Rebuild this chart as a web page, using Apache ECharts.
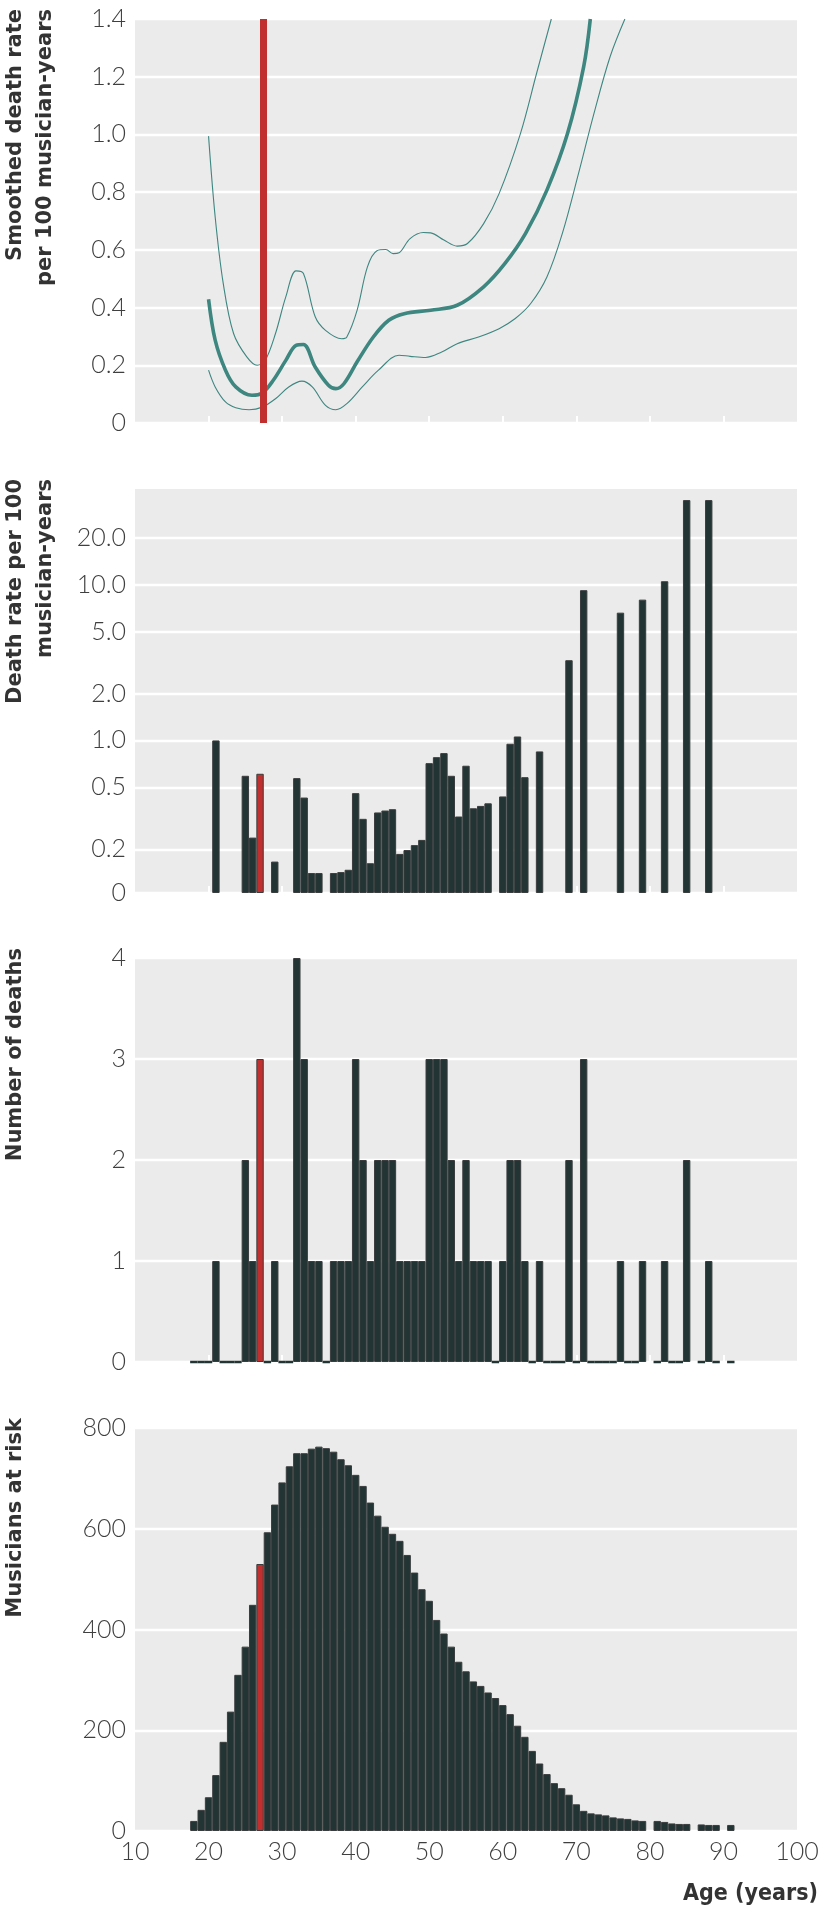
<!DOCTYPE html>
<html><head><meta charset="utf-8">
<script src="https://cdn.jsdelivr.net/npm/echarts@6/dist/echarts.min.js"></script>
<style>html,body{margin:0;padding:0;background:#fff}#c{width:824px;height:1916px}</style>
</head><body><div id="c"></div><script>
// ---- data ----
const ages = [18,19,20,21,22,23,24,25,26,27,28,29,30,31,32,33,34,35,36,37,38,39,40,41,42,43,44,45,46,47,48,49,50,51,52,53,54,55,56,57,58,59,60,61,62,63,64,65,66,67,68,69,70,71,72,73,74,75,76,77,78,79,80,81,82,83,84,85,86,87,88,89,90,91];
const atRisk = [20,42,67,111,177,237,310,366,449,530,593,648,692,724,750,750,759,763,760,753,738,726,707,685,652,626,604,590,576,548,513,480,457,419,392,366,336,317,297,288,275,264,250,232,209,187,159,134,113,95,85,72,53,40,35,33,31,27,25,24,21,20,null,20,18,15,14,14,null,13,12,12,null,12];
const deaths = [0,0,0,1,0,0,0,2,1,3,0,1,0,0,4,3,1,1,0,1,1,1,3,2,1,2,2,2,1,1,1,1,3,3,3,2,1,2,1,1,1,0,1,2,2,1,0,1,0,0,0,2,0,3,0,0,0,0,1,0,0,1,null,0,1,0,0,2,null,0,1,0,null,0];
const deathRate = [0,0,0,1.0,0,0,0,0.593,0.238,0.611,0,0.167,0,0,0.573,0.43,0.141,0.141,0,0.141,0.143,0.148,0.459,0.314,0.163,0.345,0.355,0.362,0.187,0.198,0.213,0.23,0.715,0.781,0.829,0.593,0.325,0.688,0.367,0.38,0.395,0,0.437,0.952,1.06,0.581,0,0.85,0,0,0,3.27,0,9.2,0,0,0,0,6.6,0,0,8.0,null,0,10.5,0,0,34.8,null,0,34.8,0,null,0];
const highlightAge = 27;
const markerAge = 27.45;

const smoothMidAges = [20,20.9,22.3,23.7,25.9,27.3,28.8,30.5,31.9,32.9,34.5,36.3,37.3,38.4,40.2,42.4,44.5,46.6,50.2,53.8,57.4,60.3,63.1,66,68.8,71,71.9];
const smoothMid = [0.429,0.287,0.183,0.125,0.096,0.104,0.148,0.217,0.269,0.272,0.194,0.131,0.119,0.136,0.212,0.298,0.356,0.379,0.391,0.408,0.472,0.553,0.657,0.807,1.003,1.235,1.4];
const smoothUpperAges = [20,20.9,22,23.4,25.2,26.6,27.7,29.1,30.5,31.9,32.9,34.5,35.9,38.1,38.8,40.2,41.6,42.9,44.1,45.1,45.9,47.4,49.2,50.2,52,53.8,55.2,57.4,59.5,62.4,64.6,66.6];
const smoothUpper = [0.994,0.714,0.483,0.31,0.229,0.2,0.217,0.31,0.437,0.527,0.518,0.368,0.321,0.292,0.298,0.391,0.541,0.597,0.601,0.587,0.59,0.639,0.66,0.659,0.634,0.613,0.622,0.691,0.795,1.003,1.212,1.4];
const smoothLowerAges = [20,20.9,22.3,23.7,25.5,27.3,29.1,30.9,32.7,34.1,35.9,37.3,38.8,40.9,43.1,45.9,47.4,49.5,51.7,53.8,56.7,59.5,61.7,63.8,66,68.1,70.3,72.4,74.6,76.6];
const smoothLower = [0.183,0.125,0.073,0.053,0.046,0.055,0.084,0.125,0.145,0.125,0.061,0.046,0.067,0.125,0.183,0.235,0.231,0.227,0.246,0.275,0.298,0.327,0.362,0.414,0.506,0.657,0.865,1.073,1.27,1.4];

const xTicks = [10,20,30,40,50,60,70,80,90,100];
const innerTicks = [20,30,40,50,60,70,80,90];
const rateTicks = [0,0.2,0.5,1,2,5,10,20];
const rateTickLabels = ['0','0.2','0.5','1.0','2.0','5.0','10.0','20.0'];
const RATE_FLOOR = 0.105, RATE_TOP = 41;

const titles = [
  ['Smoothed death rate','per 100 musician-years'],
  ['Death rate per 100','musician-years'],
  ['Number of deaths'],
  ['Musicians at risk']
];

// ---- styling ----
const BAR = '#223433', BAR_EDGE = '#3a3d3d', RED = '#c1302e', TEAL = '#3e8680';
const LABEL_FONT = 'Lato', LABEL_COLOR = '#3f3f3f', LABEL_SIZE = 25;
const gridTops = [19, 489, 958, 1428];
const gridH = 404;
const rateT = v => Math.log10(Math.max(v, RATE_FLOOR) / RATE_FLOOR);

function zip(xs, ys){ return xs.map((x,i)=>[x, ys[i]]); }
function barData(vals, keepZero){
  const out = [];
  ages.forEach((a,i)=>{
    const v = vals[i];
    if (v === null) return;
    if (!keepZero && v === 0) return;
    const item = {value:[a, v]};
    if (a === highlightAge) item.itemStyle = {color: RED};
    out.push(item);
  });
  return out;
}

const grids = gridTops.map((t,i)=>({left:135, width:662, top:t, height: i===3?403:gridH, show:true, backgroundColor:'#ebebeb', borderWidth:0}));

const xAxes = grids.map((g,i)=>({
  type:'value', gridIndex:i, min:10, max:100, interval:10,
  axisLine:{show:false}, splitLine:{show:false},
  axisTick: i<3 ? {show:true, inside:true, length:7, lineStyle:{color:'#fff', width:2}, customValues: innerTicks} : {show:false},
  axisLabel: i<3 ? {show:false} : {show:true, fontFamily:LABEL_FONT, fontWeight:300, fontSize:LABEL_SIZE, color:LABEL_COLOR, margin:8, customValues: xTicks}
}));

const yBase = {axisLine:{show:false}, axisTick:{show:false}, splitLine:{show:true, lineStyle:{color:'#fff', width:2.4}}};
const yLabel = {fontFamily:LABEL_FONT, fontWeight:300, fontSize:LABEL_SIZE, color:LABEL_COLOR, margin:9};
const rateTickPos = rateTicks.map(rateT);
const yAxes = [
  Object.assign({type:'value', gridIndex:0, min:0, max:1.4, interval:0.2, axisLabel:Object.assign({formatter:v=> v===0?'0':v.toFixed(1)}, yLabel)}, yBase),
  Object.assign({type:'value', gridIndex:1, min:0, max:rateT(RATE_TOP),
    axisLabel:Object.assign({customValues: rateTickPos, formatter:v=>{
      let best=0; rateTickPos.forEach((p,k)=>{ if(Math.abs(p-v)<Math.abs(rateTickPos[best]-v)) best=k; }); return rateTickLabels[best]; }}, yLabel)}, yBase,
    {axisTick:{show:false, customValues: rateTickPos}}),
  Object.assign({type:'value', gridIndex:2, min:0, max:4, interval:1, axisLabel:yLabel}, yBase),
  Object.assign({type:'value', gridIndex:3, min:0, max:800, interval:200, axisLabel:yLabel}, yBase)
];

const barStyle = {color:BAR, borderColor:BAR_EDGE, borderWidth:1};
const series = [
  {type:'line', xAxisIndex:0, yAxisIndex:0, data:[], z:1, silent:true,
   markLine:{symbol:'none', silent:true, label:{show:false}, lineStyle:{color:RED, width:7, type:'solid'}, data:[{xAxis: markerAge}]}},
  {type:'line', xAxisIndex:0, yAxisIndex:0, data:zip(smoothUpperAges, smoothUpper), smooth:0.35, showSymbol:false, lineStyle:{color:TEAL, width:1.1}, z:3},
  {type:'line', xAxisIndex:0, yAxisIndex:0, data:zip(smoothLowerAges, smoothLower), smooth:0.35, showSymbol:false, lineStyle:{color:TEAL, width:1.1}, z:3},
  {type:'line', xAxisIndex:0, yAxisIndex:0, data:zip(smoothMidAges, smoothMid), smooth:0.35, showSymbol:false, lineStyle:{color:TEAL, width:3.6}, z:4},
  {type:'bar', xAxisIndex:1, yAxisIndex:1, barWidth:7.4, itemStyle:barStyle,
   data: barData(deathRate, false).map(d=>Object.assign({}, d, {value:[d.value[0], rateT(d.value[1])]}))},
  {type:'bar', xAxisIndex:2, yAxisIndex:2, barWidth:7.4, barGap:'-100%', itemStyle:{color:BAR, borderColor:BAR, borderWidth:2.5},
   data: barData(deaths, true).filter(d=>d.value[1]===0)},
  {type:'bar', xAxisIndex:2, yAxisIndex:2, barWidth:7.4, barGap:'-100%', itemStyle:barStyle, data: barData(deaths, false)},
  {type:'bar', xAxisIndex:3, yAxisIndex:3, barWidth:7.4, itemStyle:barStyle, data: barData(atRisk, false)}
];

const TITLE_FONT = 'bold 21px "DejaVu Sans", Verdana, sans-serif';
const graphic = [];
titles.forEach((lines, i)=>{
  lines.forEach((txt, j)=>{
    graphic.push({type:'text', x: 16 + j*30, y: gridTops[i]-10, rotation: Math.PI/2,
      style:{text: txt, font: TITLE_FONT, fill:'#333', align:'right', verticalAlign:'middle'}});
  });
});
graphic.push({type:'text', x: 818, y: 1894, style:{text:'Age (years)', font:'bold 23px "DejaVu Sans Condensed", "Liberation Sans Narrow", sans-serif', fill:'#333', align:'right', verticalAlign:'middle'}});

const chart = echarts.init(document.getElementById('c'), null, {renderer:'canvas'});
chart.setOption({animation:false, grid:grids, xAxis:xAxes, yAxis:yAxes, series, graphic});
</script></body></html>
